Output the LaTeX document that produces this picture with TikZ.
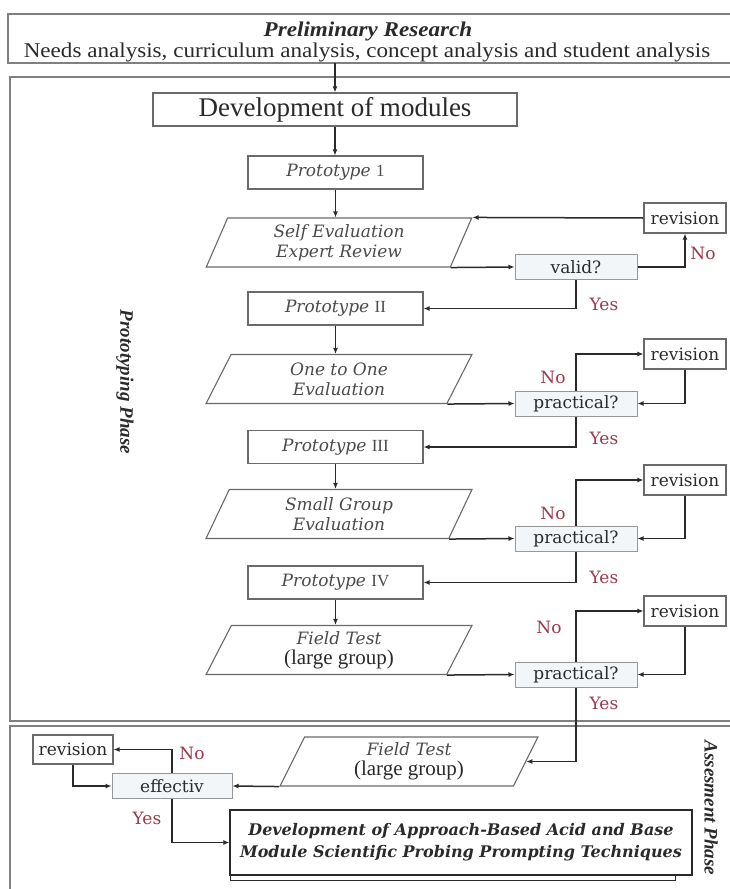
\documentclass[tikz,border=0pt]{standalone}
\usepackage{fontspec}
\setmainfont{Liberation Serif}
\newfontfamily\bk{DejaVu Serif}
\newfontfamily\widerm[FakeStretch=1.1]{Liberation Serif}
\usetikzlibrary{shapes.geometric,arrows.meta}
\definecolor{boxgray}{HTML}{6A6A6A}
\definecolor{framegray}{HTML}{808080}
\definecolor{linedark}{HTML}{2A2A2A}
\definecolor{labred}{HTML}{9A3A4A}
\definecolor{txtgray}{HTML}{4A4A4A}
\definecolor{decfill}{HTML}{F2F6F8}
\begin{document}
\begin{tikzpicture}[x=1pt,y=-1pt,
  frame/.style={draw=framegray, line width=1.6pt},
  devbox/.style={draw=boxgray, line width=1.2pt, minimum width=364pt, minimum height=33pt, inner sep=0pt, font=\fontsize{27}{30}\selectfont, text=linedark},
  protobox/.style={draw=boxgray, line width=1.1pt, minimum width=175pt, minimum height=33pt, inner sep=0pt, font=\bk\itshape\fontsize{17}{20}\selectfont, text=txtgray},
  para/.style={shape=trapezium, trapezium left angle=71, trapezium right angle=109, trapezium stretches=true, draw=boxgray, line width=1.1pt, minimum width=266pt, minimum height=49pt, inner sep=0pt, align=center, font=\bk\itshape\fontsize{17}{20}\selectfont, text=txtgray},
  revbox/.style={draw=boxgray, line width=1.1pt, fill=white, minimum width=82pt, minimum height=30pt, inner sep=0pt, font=\bk\fontsize{17}{20}\selectfont, text=linedark},
  dec/.style={draw=boxgray!70, line width=1pt, fill=decfill, minimum width=122pt, minimum height=25pt, inner sep=0pt, font=\bk\fontsize{17}{20}\selectfont, text=linedark},
  lab/.style={font=\bk\fontsize{17}{20}\selectfont, text=labred, inner sep=0pt},
  phase/.style={font=\bfseries\itshape\fontsize{19}{22}\selectfont, text=linedark, rotate=-90, inner sep=0pt},
  arr/.style={draw=linedark, line width=1.5pt, -{Latex[length=6pt,width=5pt]}},
  finalbox/.style={draw=linedark, line width=1.4pt, fill=white, minimum width=462pt, minimum height=65pt, inner sep=0pt, align=center, font=\bk\bfseries\itshape\fontsize{16}{22}\selectfont, text=linedark}
]
\useasboundingbox (0,0) rectangle (729,889);
\fill[white] (0,0) rectangle (729,889);

% frames
\draw[frame] (730,14) -- (8,14) -- (8,63) -- (730,63);
\draw[frame] (730,77) -- (10,77) -- (10,721) -- (730,721);
\draw[frame] (730,726) -- (10,726) -- (10,891);

% preliminary research
\node[font=\widerm\bfseries\itshape\fontsize{21}{22}\selectfont, text=linedark, inner sep=0pt] (prelimtitle) at (368,31) {Preliminary Research};
\node[font=\widerm\fontsize{21}{22}\selectfont, text=linedark, inner sep=0pt] (prelimtext) at (367,52) {Needs analysis, curriculum analysis, concept analysis and student analysis};
\coordinate (prelimbottom) at (335,63);

% phase labels
\node[phase] (protophase) at (125,382) {Prototyping Phase};
\node[phase] (assessphase) at (711,808) {Assesment Phase};

% main column
\node[devbox] (dev) at (335,109.5) {Development of modules};
\node[protobox] (p1) at (335.5,172.5) {Prototype {\rmfamily\upshape 1}};
\node[para] (se) at (339,242.5) {Self Evaluation\\Expert Review};
\node[dec] (valid) at (576,267) {valid?};
\node[revbox] (rev1) at (685,218) {revision};
\node[protobox] (p2) at (335.5,308.5) {Prototype {\rmfamily\upshape II}};

\node[para] (oo) at (339,379) {One to One\\Evaluation};
\node[dec] (prac1) at (576,403.5) {practical?};
\node[revbox] (rev2) at (685,354) {revision};
\node[protobox] (p3) at (335.5,447) {Prototype {\rmfamily\upshape III}};

\node[para] (sg) at (339,514) {Small Group\\Evaluation};
\node[dec] (prac2) at (576,538.5) {practical?};
\node[revbox] (rev3) at (685,480) {revision};
\node[protobox] (p4) at (335.5,582.5) {Prototype {\rmfamily\upshape IV}};

\node[para] (ft) at (339,650) {Field Test\\{\rmfamily\upshape\fontsize{21}{21}\selectfont\color{linedark}(large group)}};
\node[dec] (prac3) at (576,674.5) {practical?};
\node[revbox] (rev4) at (685,611) {revision};

% assessment
\node[para, minimum width=258pt] (ft2) at (409,761.5) {Field Test\\{\rmfamily\upshape\fontsize{21}{21}\selectfont\color{linedark}(large group)}};
\node[dec, minimum width=120pt] (eff) at (172,786) {effectiv};
\node[revbox, minimum width=80pt, minimum height=29pt] (rev5) at (73,749.5) {revision};
\draw[draw=linedark, line width=1pt] (230,875) -- (230,880) -- (675,880) -- (675,875);
\node[finalbox] (final) at (461,842.5) {Development of Approach-Based Acid and Base\\Module Scientific Probing Prompting Techniques};

% connectors
\draw[arr] (prelimbottom) -- (dev.north -| prelimbottom);
\draw[arr] (dev.south) -- (dev.south |- p1.north);
\draw[arr] (p1.south) -- (p1.south |- se.north);
\draw[arr] (se.bottom right corner) -- (valid.west);
\draw[arr] (valid.east) -| (rev1.south);
\draw[arr] (rev1.west) -- (se.top right corner);
\draw[arr] (valid.south) |- (p2.east);

\draw[arr] (p2.south) -- (p2.south |- oo.north);
\draw[arr] (oo.bottom right corner) -- (prac1.west);
\draw[arr] (prac1.north) |- (rev2.west);
\draw[arr] (rev2.south) |- (prac1.east);
\draw[arr] (prac1.south) |- (p3.east);

\draw[arr] (p3.south) -- (p3.south |- sg.north);
\draw[arr] (sg.bottom right corner) -- (prac2.west);
\draw[arr] (prac2.north) |- (rev3.west);
\draw[arr] (rev3.south) |- (prac2.east);
\draw[arr] (prac2.south) |- (p4.east);

\draw[arr] (p4.south) -- (p4.south |- ft.north);
\draw[arr] (ft.bottom right corner) -- (prac3.west);
\draw[arr] (prac3.north) |- (rev4.west);
\draw[arr] (rev4.south) |- (prac3.east);
\draw[arr] (prac3.south) |- (ft2.east);

\draw[arr] (ft2.bottom left corner) -- (eff.east);
\draw[arr] (eff.north) |- (rev5.east);
\draw[arr] (rev5.south) |- (eff.west);
\draw[arr] (eff.south) |- (final.west);

% labels
\node[lab] (no1) at (703,253) {No};
\node[lab] (yes1) at (604,304) {Yes};
\node[lab] (no2) at (553,377) {No};
\node[lab] (yes2) at (604,438) {Yes};
\node[lab] (no3) at (553,513) {No};
\node[lab] (yes3) at (604,577) {Yes};
\node[lab] (no4) at (549,627) {No};
\node[lab] (yes4) at (604,703) {Yes};
\node[lab] (no5) at (192,753) {No};
\node[lab] (yes5) at (147,818) {Yes};
\end{tikzpicture}
\end{document}
